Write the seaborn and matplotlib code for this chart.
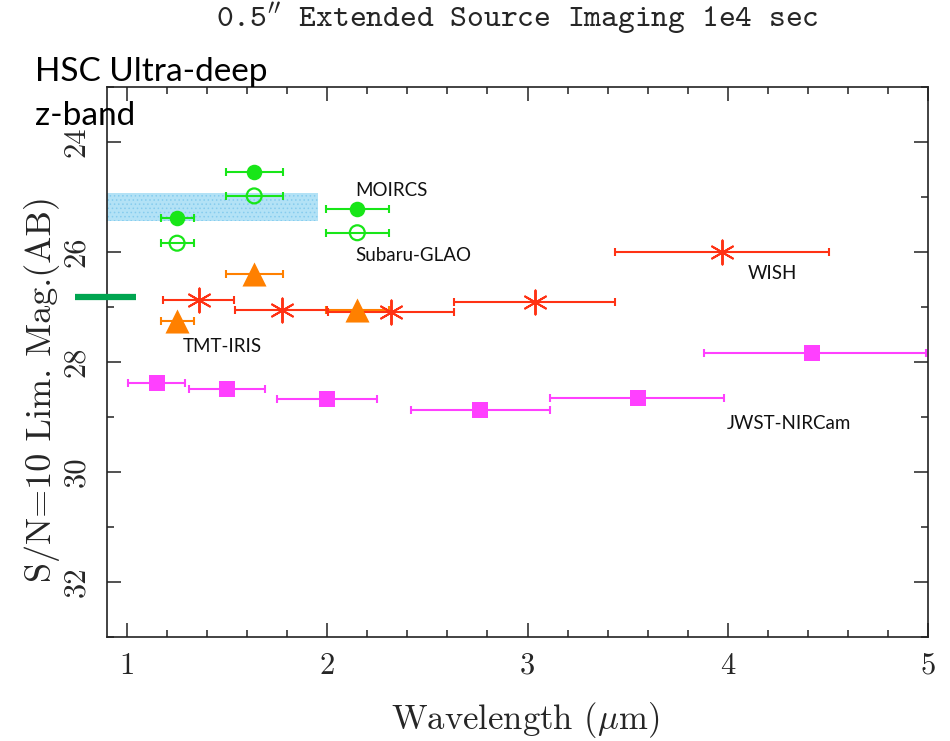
import matplotlib
matplotlib.use("Agg")
import matplotlib.pyplot as plt
from matplotlib.ticker import MultipleLocator, FixedLocator
import seaborn as sns
import pandas as pd

# ---------------- data ----------------
# Subaru MOIRCS (filled circles) and Subaru GLAO (open circles): J, H, K
sub_x = [1.25, 1.635, 2.15]
sub_xlo = [1.17, 1.495, 1.995]
sub_xhi = [1.335, 1.78, 2.31]
moircs_y = [25.39, 24.54, 25.22]
glao_y = [25.84, 24.98, 25.65]
# TMT-IRIS (triangles)
iris_x = [1.25, 1.635, 2.15]
iris_xlo = [1.17, 1.495, 1.995]
iris_xhi = [1.335, 1.78, 2.31]
iris_y = [27.25, 26.40, 27.05]
# WISH (asterisks)
wish_x = [1.36, 1.776, 2.318, 3.035, 3.97]
wish_xlo = [1.178, 1.54, 2.005, 2.632, 3.435]
wish_xhi = [1.536, 1.998, 2.632, 3.435, 4.507]
wish_y = [26.88, 27.05, 27.09, 26.91, 26.00]
# JWST-NIRCam (squares)
jwst_x = [1.148, 1.50, 2.00, 2.765, 3.55, 4.42]
jwst_xlo = [1.003, 1.31, 1.75, 2.42, 3.11, 3.88]
jwst_xhi = [1.29, 1.69, 2.25, 3.11, 3.98, 4.99]
jwst_y = [28.39, 28.50, 28.67, 28.88, 28.66, 27.84]
# HSC Ultra-deep z-band shaded range and marker
hsc_band_x = [0.9, 1.955]
hsc_band_y = [24.93, 25.43]
hsc_z_mag = 26.81
hsc_z_x = [0.74, 1.045]

x_ticks = [1, 2, 3, 4, 5]
x_ticklabels = ["1", "2", "3", "4", "5"]
y_ticks = [24, 26, 28, 30, 32]
y_ticklabels = ["24", "26", "28", "30", "32"]

labels = ["MOIRCS", "Subaru-GLAO", "WISH", "TMT-IRIS", "JWST-NIRCam"]
label_x = [2.14, 2.14, 4.10, 1.28, 3.995]
label_y = [24.99, 26.16, 26.50, 27.82, 29.21]

title = r"0.5$^{\prime\prime}$ Extended Source Imaging 1e4 sec"

# ---------------- style ----------------
sns.set_style("ticks")
plt.rcParams["font.family"] = ["cmr10", "DejaVu Serif"]
plt.rcParams["mathtext.fontset"] = "cm"
plt.rcParams["axes.formatter.use_mathtext"] = True
plt.rcParams["hatch.linewidth"] = 0.6

GREEN = "#18e618"
ORANGE = "#ff8000"
RED = "#ff3214"
MAGENTA = "#ff40ff"

fig = plt.figure(figsize=(9.5, 7.41), dpi=100)
ax = fig.add_axes([107 / 950, 1 - 637 / 741, 821 / 950, 550 / 741])

# shaded HSC band
ax.fill_between(hsc_band_x, hsc_band_y[0], hsc_band_y[1],
                facecolor="#b3e2f6", edgecolor="#86ccee", hatch="....",
                linewidth=0, zorder=1)
# HSC z-band marker outside axes
ax.plot(hsc_z_x, [hsc_z_mag, hsc_z_mag], color="#00a550", lw=4.5,
        solid_capstyle="butt", clip_on=False, zorder=5)


def errs(x, lo, hi):
    return [[a - b for a, b in zip(x, lo)], [c - a for a, c in zip(x, hi)]]


ekw = dict(fmt="none", elinewidth=1.5, capsize=2.9, capthick=1.5, zorder=2)
ax.errorbar(sub_x, moircs_y, xerr=errs(sub_x, sub_xlo, sub_xhi), ecolor=GREEN, **ekw)
ax.errorbar(sub_x, glao_y, xerr=errs(sub_x, sub_xlo, sub_xhi), ecolor=GREEN, **ekw)
ax.errorbar(iris_x, iris_y, xerr=errs(iris_x, iris_xlo, iris_xhi), ecolor=ORANGE, **ekw)
ax.errorbar(wish_x, wish_y, xerr=errs(wish_x, wish_xlo, wish_xhi), ecolor=RED, **ekw)
ax.errorbar(jwst_x, jwst_y, xerr=errs(jwst_x, jwst_xlo, jwst_xhi), ecolor=MAGENTA, **ekw)

df_m = pd.DataFrame({"x": sub_x, "y": moircs_y})
df_g = pd.DataFrame({"x": sub_x, "y": glao_y})
df_i = pd.DataFrame({"x": iris_x, "y": iris_y})
df_w = pd.DataFrame({"x": wish_x, "y": wish_y})
df_j = pd.DataFrame({"x": jwst_x, "y": jwst_y})

sns.scatterplot(data=df_m, x="x", y="y", ax=ax, marker="o", s=125,
                color=GREEN, edgecolor=GREEN, linewidth=0, zorder=4)
sns.scatterplot(data=df_g, x="x", y="y", ax=ax, marker="o", s=115,
                facecolors="none", edgecolor=GREEN, linewidth=1.6, zorder=4)
sns.scatterplot(data=df_i, x="x", y="y", ax=ax, marker="^", s=300,
                color=ORANGE, edgecolor=ORANGE, linewidth=0, zorder=4)
sns.scatterplot(data=df_w, x="x", y="y", ax=ax, marker=(6, 2, 0), s=300,
                color=RED, edgecolor=RED, linewidth=1.4, zorder=4)
sns.scatterplot(data=df_j, x="x", y="y", ax=ax, marker="s", s=125,
                color=MAGENTA, edgecolor=MAGENTA, linewidth=0, zorder=4)

for t, lx, ly in zip(labels, label_x, label_y):
    ax.text(lx, ly, t, fontsize=13.5, family=["Lato", "DejaVu Sans"],
            ha="left", va="baseline", color="#111111", zorder=6)

# axes
ax.set_xlim(0.9, 5.0)
ax.set_ylim(33, 23)
ax.xaxis.set_major_locator(FixedLocator(x_ticks))
ax.set_xticklabels(x_ticklabels)
ax.xaxis.set_minor_locator(MultipleLocator(0.2))
ax.yaxis.set_major_locator(FixedLocator(y_ticks))
ax.set_yticklabels(y_ticklabels)
ax.yaxis.set_minor_locator(MultipleLocator(1))
ax.tick_params(which="both", direction="in", top=True, right=True,
               color="#222222", width=1.1)
ax.tick_params(which="major", length=10)
ax.tick_params(which="minor", length=5)
ax.tick_params(axis="x", which="major", labelsize=22, pad=11)
ax.tick_params(axis="y", which="major", labelsize=22, pad=12, labelrotation=90)
for lab in ax.get_yticklabels():
    lab.set_va("center")
for s in ax.spines.values():
    s.set_linewidth(1.2)
    s.set_color("#222222")

ax.set_xlabel(r"Wavelength ($\mu$m)", fontsize=25, va="center")
ax.xaxis.set_label_coords(0.509, -0.151)
ax.set_ylabel("S/N=10 Lim. Mag.(AB)", fontsize=26, va="center")
ax.yaxis.set_label_coords(-0.079, 0.451)

fig.text(517.5 / 950, 1 - 18 / 741, title, family=["cmtt10", "DejaVu Sans Mono"],
         fontsize=23, ha="center", va="center")

fig.text(35 / 950, 1 - 80.7 / 741, "HSC Ultra-deep", family=["Lato", "DejaVu Sans"],
         fontsize=24, ha="left", va="baseline", color="black")
fig.text(35 / 950, 1 - 125 / 741, "z-band", family=["Lato", "DejaVu Sans"],
         fontsize=24, ha="left", va="baseline", color="black")

fig.savefig("out.png", dpi=100)
